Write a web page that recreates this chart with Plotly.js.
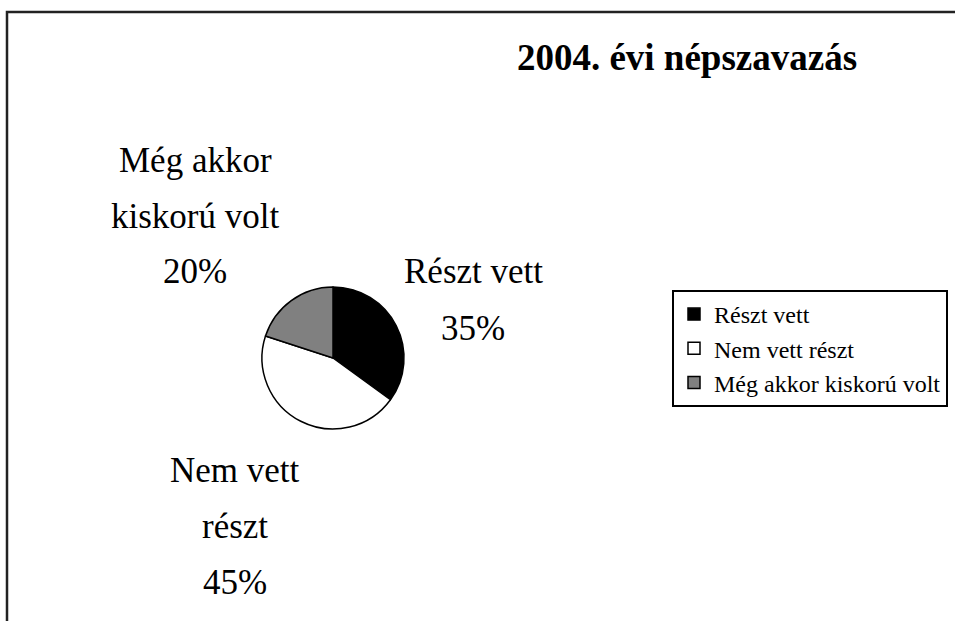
<!DOCTYPE html>
<html>
<head>
<meta charset="utf-8">
<script src="https://cdn.plot.ly/plotly-3.0.1.min.js"></script>
<style>
  html, body { margin: 0; padding: 0; background: #fff; }
  #chart { width: 955px; height: 621px; }
</style>
</head>
<body>
<div id="chart"></div>
<script>
// slice data
const labels = ["Részt vett", "Nem vett részt", "Még akkor kiskorú volt"];
const values = [35, 45, 20];
const colors = ["#000000", "#ffffff", "#808080"];
// how the labels next to the pie break into lines
const wrapped = [["Részt vett"], ["Nem vett", "részt"], ["Még akkor", "kiskorú volt"]];

const W = 955, H = 621;
const serif = "Liberation Serif, Times New Roman, serif";

// where each outside label block starts (px, first line centre)
const labelPos = [
  { x: 473, y: 272 },
  { x: 235, y: 470 },
  { x: 195, y: 160 },
];
const lineGap = 56;

let total = values.reduce((a, b) => a + b, 0);
let annotations = [];
for (let i = 0; i < labels.length; i++) {
  let lines = wrapped[i].concat([Math.round(values[i] / total * 100) + "%"]);
  for (let j = 0; j < lines.length; j++) {
    annotations.push({
      xref: "paper", yref: "paper",
      x: labelPos[i].x / W,
      y: 1 - (labelPos[i].y + j * lineGap) / H,
      xanchor: "center", yanchor: "middle",
      text: lines[j],
      showarrow: false,
      font: { family: serif, size: 35, color: "#000" },
    });
  }
}

let pie = {
  type: "pie",
  labels: labels,
  values: values,
  sort: false,
  direction: "clockwise",
  rotation: 0,
  textinfo: "none",
  hoverinfo: "label+percent",
  marker: {
    colors: colors,
    line: { color: "#000", width: 1.5 },
  },
  domain: {
    x: [262 / W, 404 / W],
    y: [1 - 430 / H, 1 - 286 / H],
  },
};

let layout = {
  width: W,
  height: H,
  margin: { l: 0, r: 0, t: 0, b: 0, autoexpand: false },
  paper_bgcolor: "#fff",
  plot_bgcolor: "#fff",
  font: { family: serif, color: "#000" },
  title: {
    text: "<b>2004. évi népszavazás</b>",
    x: 687 / W,
    xanchor: "center",
    y: 1 - 57 / H,
    yanchor: "middle",
    font: { family: serif, size: 37, color: "#000" },
  },
  showlegend: true,
  legend: {
    x: 672 / W,
    y: 1 - 290 / H,
    xanchor: "left",
    yanchor: "top",
    bgcolor: "#fff",
    bordercolor: "#000",
    borderwidth: 2,
    font: { family: serif, size: 24, color: "#000" },
  },
  annotations: annotations,
  shapes: [
    {
      type: "rect",
      xref: "paper", yref: "paper",
      x0: 7 / W, x1: 1.05,
      y0: -0.05, y1: 1 - 12 / H,
      line: { color: "#222", width: 2.5 },
    },
  ],
};

Plotly.newPlot("chart", [pie], layout, { displayModeBar: false, staticPlot: true });
</script>
</body>
</html>
